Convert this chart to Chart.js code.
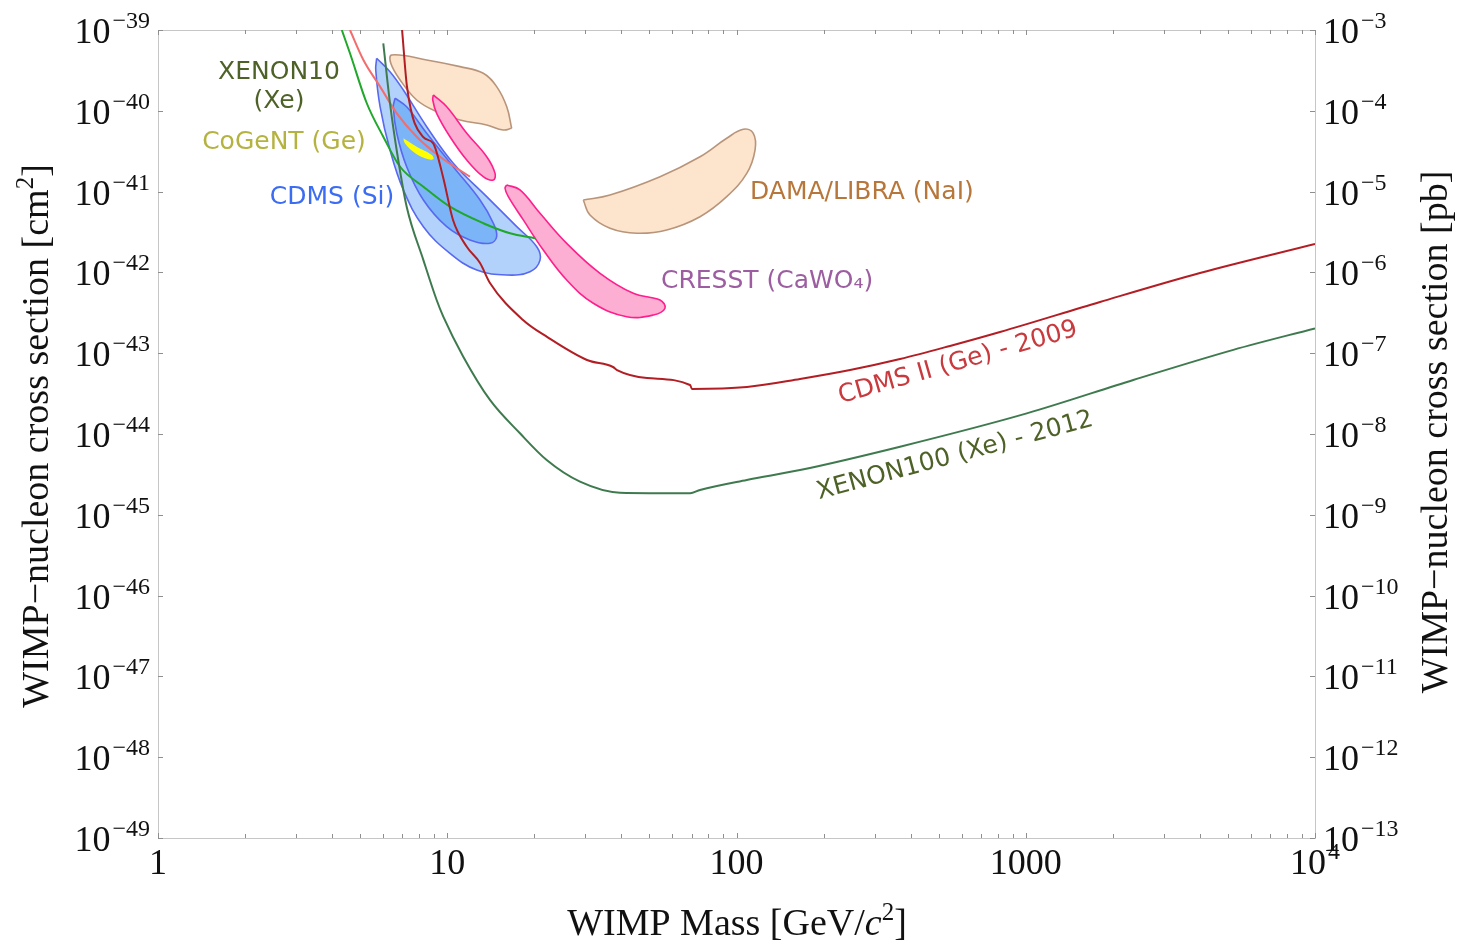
<!DOCTYPE html>
<html>
<head>
<meta charset="utf-8">
<script src="https://cdn.jsdelivr.net/npm/chart.js@4/dist/chart.umd.min.js"></script>
<style>
  html, body { margin: 0; background: #fff; }
  canvas { display: block; }
</style>
</head>
<body>
<canvas id="c" width="1466" height="946"></canvas>
<script>
// axes
const xTicks = [1, 10, 100, 1000, 10000];
const xTickLabels = [["1", ""], ["10", ""], ["100", ""], ["1000", ""], ["10", "4"]];
const yTicks = [1e-39, 1e-40, 1e-41, 1e-42, 1e-43, 1e-44, 1e-45, 1e-46, 1e-47, 1e-48, 1e-49];
const yTickLabels = ["−39", "−40", "−41", "−42", "−43", "−44", "−45", "−46", "−47", "−48", "−49"];
const y2Ticks = [1e-3, 1e-4, 1e-5, 1e-6, 1e-7, 1e-8, 1e-9, 1e-10, 1e-11, 1e-12, 1e-13];
const y2TickLabels = ["−3", "−4", "−5", "−6", "−7", "−8", "−9", "−10", "−11", "−12", "−13"];

// exclusion limits (mass GeV, cross section cm^2)
const mCdms2 = [6.98, 7.26, 8.25, 8.93, 9.67, 10.47, 11.7, 12.98, 14.05, 18.28, 22.13, 30.42, 37.41, 38.63, 49.05, 69.08, 70.19, 108.7, 165.8, 246.9, 367.6, 547.2, 814.7, 1806, 4003, 10000];
const sCdms2 = [1.0e-39, 1.97e-40, 4.74e-41, 3.99e-41, 1.52e-41, 4.46e-42, 2.06e-42, 1.31e-42, 7.40e-43, 2.58e-43, 1.59e-43, 8.24e-44, 6.75e-44, 6.19e-44, 4.93e-44, 4.04e-44, 3.61e-44, 3.82e-44, 4.80e-44, 6.19e-44, 8.47e-44, 1.23e-43, 1.83e-43, 4.31e-43, 9.84e-43, 2.25e-42];

const mX100 = [6.01, 6.34, 6.77, 7.24, 8.27, 9.19, 9.69, 11.36, 14.05, 17.84, 22.07, 28.77, 39.56, 69.08, 74.8, 108.5, 165.8, 367.6, 1008, 2354, 5219, 10000];
const sX100 = [6.84e-40, 1.24e-40, 2.46e-41, 6.50e-42, 1.42e-42, 4.55e-43, 2.83e-43, 9.06e-44, 2.64e-44, 1.02e-44, 4.76e-45, 2.57e-45, 1.88e-45, 1.85e-45, 2.03e-45, 2.70e-45, 3.58e-45, 6.97e-45, 1.80e-44, 4.66e-44, 1.10e-43, 2.03e-43];

const mX10 = [4.32, 4.61, 5.27, 6.01, 6.87, 8.27, 10.22, 13.32, 16.48, 20.11];
const sX10 = [1.0e-39, 5.15e-40, 1.24e-40, 4.78e-41, 2.03e-41, 1.15e-41, 6.50e-42, 4.06e-42, 3.05e-42, 2.64e-42];

const mCogLine = [4.61, 5.13, 5.86, 6.69, 7.84, 9.44, 11.98];
const sCogLine = [1.0e-39, 4.26e-40, 1.99e-40, 9.31e-41, 4.78e-41, 2.70e-41, 1.53e-41];

// signal regions (closed contours)
const mCogReg = [7.05, 7.84, 8.84, 8.95, 8.38, 7.63, 7.14, 7.05];
const sCogReg = [4.57e-41, 3.60e-41, 2.84e-41, 2.51e-41, 2.58e-41, 3.12e-41, 3.96e-41, 4.57e-41];

const mDamaA = [16.70, 15.62, 13.69, 11.07, 9.19, 7.84, 6.87, 6.38, 6.43, 8.49, 11.07, 13.32, 14.82, 16.06, 16.70];
const sDamaA = [6.07e-41, 5.79e-41, 6.67e-41, 7.69e-41, 9.75e-41, 1.36e-40, 2.41e-40, 3.87e-40, 4.91e-40, 4.26e-40, 3.52e-40, 2.91e-40, 1.99e-40, 1.12e-40, 6.07e-41];

const mDamaB = [29.53, 36.53, 54.4, 74.8, 92.5, 105.6, 114.3, 115.9, 108.5, 92.5, 74.8, 57.4, 45.2, 36.53, 31.15, 29.53];
const sDamaB = [7.87e-42, 9.08e-42, 1.53e-41, 2.70e-41, 4.57e-41, 5.90e-41, 5.27e-41, 3.27e-41, 1.68e-41, 8.65e-42, 4.89e-42, 3.35e-42, 3.05e-42, 3.52e-42, 5.13e-42, 7.87e-42];

const mCresA = [8.95, 9.96, 11.68, 13.69, 14.63, 14.43, 13.32, 11.68, 10.22, 9.19, 8.91, 8.95];
const sCresA = [1.57e-40, 1.12e-40, 5.27e-41, 2.70e-41, 1.68e-41, 1.39e-41, 1.53e-41, 2.46e-41, 4.78e-41, 9.31e-41, 1.36e-40, 1.57e-40];

const mCresB = [16.06, 17.84, 20.93, 25.88, 33.75, 43.98, 54.4, 56.6, 51.6, 41.73, 31.98, 25.88, 21.48, 18.32, 16.26, 15.84, 16.06];
const sCresB = [1.21e-41, 1.05e-41, 5.39e-42, 2.29e-42, 9.75e-43, 5.51e-43, 4.55e-43, 3.60e-43, 2.97e-43, 2.83e-43, 4.15e-43, 8.05e-43, 1.89e-42, 4.46e-42, 8.65e-42, 1.10e-41, 1.21e-41];

const mSiOut = [5.70, 6.34, 7.05, 8.49, 10.49, 13.69, 17.39, 20.39, 20.93, 19.32, 16.06, 12.65, 10.22, 8.27, 7.05, 6.34, 5.86, 5.66, 5.70];
const sSiOut = [4.47e-40, 3.05e-40, 1.81e-40, 6.36e-41, 2.24e-41, 8.65e-42, 3.68e-42, 2.08e-42, 1.42e-42, 1.02e-42, 9.29e-43, 1.07e-42, 1.72e-42, 3.68e-42, 1.05e-41, 3.27e-41, 1.12e-40, 3.20e-40, 4.47e-40];

const mSiIn = [6.60, 7.24, 8.49, 10.49, 12.98, 14.43, 14.82, 14.05, 11.98, 9.96, 8.27, 7.24, 6.69, 6.51, 6.60];
const sSiIn = [1.43e-40, 1.12e-40, 5.27e-41, 2.03e-41, 7.87e-42, 4.06e-42, 2.77e-42, 2.29e-42, 2.52e-42, 3.68e-42, 7.87e-42, 2.03e-41, 5.27e-41, 1.12e-40, 1.43e-40];

const P = (m, s) => m.map((x, i) => ({ x, y: s[i] }));

const curve = (label, m, s, color) => ({
  label, data: P(m, s), borderColor: color, borderWidth: 2, fill: false,
  tension: 0.3, cubicInterpolationMode: "monotone", pointRadius: 0, order: 0,
});
const blob = (label, m, s, stroke, bg, order, w = 1.6) => ({
  label, data: P(m, s), borderColor: stroke, backgroundColor: bg, borderWidth: w,
  fill: "shape", tension: 0.4, pointRadius: 0, order,
});

const SERIF = '"Liberation Serif", "Times New Roman", serif';
const SANS = '"DejaVu Sans", Verdana, sans-serif';

// "10" with a raised exponent
function pow(ctx, base, exp, x, yb, align) {
  ctx.font = `36px ${SERIF}`;
  const wb = ctx.measureText(base).width;
  ctx.font = `24px ${SERIF}`;
  const we = exp ? ctx.measureText(exp).width + 2 : 0;
  const w = wb + we;
  const x0 = align === "right" ? x - w : align === "center" ? x - w / 2 : x;
  ctx.textAlign = "left";
  ctx.textBaseline = "alphabetic";
  ctx.font = `36px ${SERIF}`;
  ctx.fillText(base, x0, yb);
  if (exp) {
    ctx.font = `24px ${SERIF}`;
    ctx.fillText(exp, x0 + wb + 2, yb - 15);
  }
}

// mixed-font text runs, centred at (cx, cy), optional rotation
function runs(ctx, parts, cx, cy, rot) {
  ctx.save();
  ctx.translate(cx, cy);
  ctx.rotate(rot || 0);
  ctx.textAlign = "left";
  ctx.textBaseline = "alphabetic";
  let w = 0;
  const ws = parts.map((p) => { ctx.font = p[1]; const v = ctx.measureText(p[0]).width; w += v; return v; });
  let xx = -w / 2;
  parts.forEach((p, i) => { ctx.font = p[1]; ctx.fillText(p[0], xx, p[2]); xx += ws[i]; });
  ctx.restore();
}

function note(ctx, txt, x, y, color, align = "center", rot = 0) {
  ctx.save();
  ctx.translate(x, y);
  ctx.rotate(rot);
  ctx.font = `25px ${SANS}`;
  ctx.fillStyle = color;
  ctx.textAlign = align;
  ctx.textBaseline = "middle";
  ctx.fillText(txt, 0, 0);
  ctx.restore();
}

const frame = {
  id: "frame",
  beforeDatasetsDraw(c) {
    const { ctx, chartArea: a, scales: { x, y } } = c;
    ctx.save();
    ctx.lineWidth = 1;
    ctx.strokeStyle = "#c6c6c6";
    ctx.strokeRect(a.left + 0.5, a.top + 0.5, a.right - a.left, a.bottom - a.top);
    ctx.strokeStyle = "#8e8e8e";
    const seg = (x1, y1, x2, y2) => { ctx.beginPath(); ctx.moveTo(x1, y1); ctx.lineTo(x2, y2); ctx.stroke(); };
    xTicks.forEach((v) => {
      for (let k = 1; k <= 9; k++) {
        if (v * k > 10000) break;
        const px = Math.round(x.getPixelForValue(v * k)) + 0.5;
        const L = k === 1 ? 5 : 4;
        seg(px, a.bottom, px, a.bottom - L);
        seg(px, a.top, px, a.top + L);
      }
    });
    yTicks.forEach((v) => {
      const py = Math.round(y.getPixelForValue(v)) + 0.5;
      seg(a.left, py, a.left + 5, py);
      seg(a.right, py, a.right - 5, py);
    });
    ctx.restore();
  },
  afterDraw(c) {
    const { ctx, chartArea: a, scales: { x, y, y2 } } = c;
    ctx.save();
    ctx.fillStyle = "#111";
    yTicks.forEach((v, i) => pow(ctx, "10", yTickLabels[i], a.left - 8, y.getPixelForValue(v) + 13, "right"));
    y2Ticks.forEach((v, i) => pow(ctx, "10", y2TickLabels[i], a.right + 8, y2.getPixelForValue(v) + 13, "left"));
    xTicks.forEach((v, i) => pow(ctx, xTickLabels[i][0], xTickLabels[i][1], x.getPixelForValue(v), a.bottom + 36, "center"));

    const f = `38px ${SERIF}`, fi = `italic 38px ${SERIF}`, fs = `25px ${SERIF}`;
    runs(ctx, [["WIMP Mass [GeV/", f, 0], ["c", fi, 0], ["2", fs, -15], ["]", f, 0]], 737, 935);
    runs(ctx, [["WIMP−nucleon cross section [cm", f, 0], ["2", fs, -15], ["]", f, 0]], 48, 436, -Math.PI / 2);
    runs(ctx, [["WIMP−nucleon cross section [pb]", f, 0]], 1447, 432, -Math.PI / 2);

    note(ctx, "XENON10", 279, 72, "#4e6228");
    note(ctx, "(Xe)", 279, 101, "#4e6228");
    note(ctx, "CoGeNT (Ge)", 284, 142, "#b5b340");
    note(ctx, "CDMS (Si)", 332, 197, "#3b6cf2");
    note(ctx, "DAMA/LIBRA (NaI)", 750, 192, "#b8773a", "left");
    note(ctx, "CRESST (CaWO₄)", 661, 281, "#9c5ea0", "left");
    note(ctx, "CDMS II (Ge) - 2009", 958, 363, "#c83a3e", "center", -16 * Math.PI / 180);
    note(ctx, "XENON100 (Xe) - 2012", 955, 456, "#4e6228", "center", -15 * Math.PI / 180);
    ctx.restore();
  },
};

new Chart(document.getElementById("c"), {
  type: "line",
  data: {
    datasets: [
      curve("XENON100 (Xe) - 2012", mX100, sX100, "#3f7a4f"),
      curve("CDMS II (Ge) - 2009", mCdms2, sCdms2, "#b21e24"),
      curve("XENON10 (Xe)", mX10, sX10, "#1fa82a"),
      curve("CoGeNT limit", mCogLine, sCogLine, "#f26d6d"),
      blob("CoGeNT (Ge)", mCogReg, sCogReg, "#f2ee00", "#ffff00", 1, 0),
      blob("CDMS (Si) inner", mSiIn, sSiIn, "#5868f0", "#7bb5f8", 2),
      blob("CDMS (Si)", mSiOut, sSiOut, "#5868f0", "#b3d2fb", 3),
      blob("CRESST A", mCresA, sCresA, "#ff1e8c", "#fcafd3", 4),
      blob("CRESST B", mCresB, sCresB, "#ff1e8c", "#fcafd3", 4),
      blob("DAMA A", mDamaA, sDamaA, "#b8957a", "#fde4cd", 5),
      blob("DAMA B", mDamaB, sDamaB, "#b8957a", "#fde4cd", 5),
    ],
  },
  options: {
    responsive: false,
    animation: false,
    events: [],
    layout: { padding: { left: 158, right: 151, top: 30, bottom: 108 } },
    plugins: { legend: { display: false }, tooltip: { enabled: false } },
    scales: {
      x: { type: "logarithmic", min: 1, max: 10000, display: false },
      y: { type: "logarithmic", min: 1e-49, max: 1e-39, display: false },
      y2: { type: "logarithmic", min: 1e-13, max: 1e-3, display: false, position: "right" },
    },
  },
  plugins: [frame],
});
</script>
</body>
</html>
